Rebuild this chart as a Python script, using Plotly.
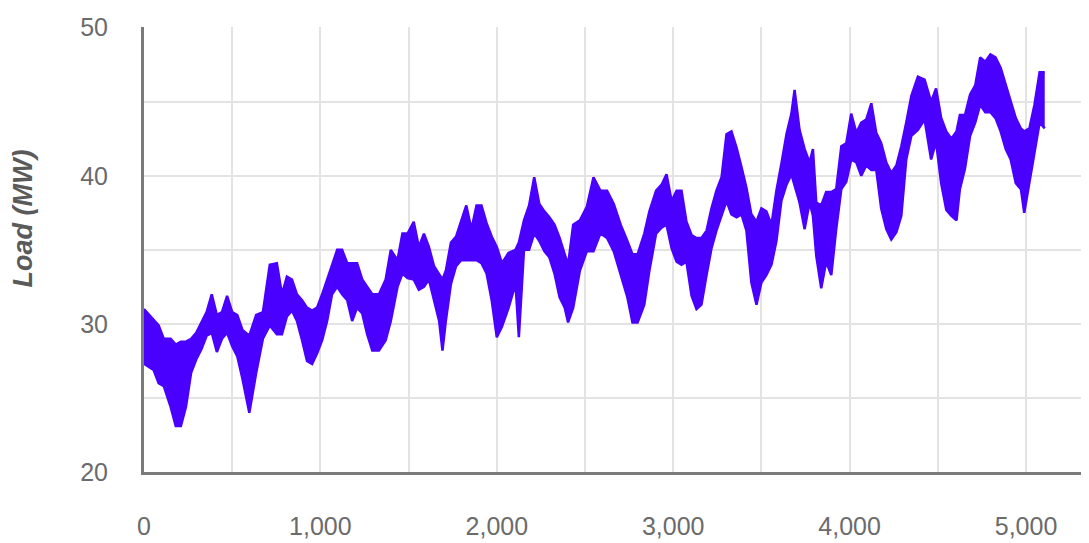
import plotly.graph_objects as go

# Hour index (x) and the upper / lower envelope of the noisy load trace (MW)
hours = [0, 54, 83, 112, 151, 180, 209, 238, 267, 296, 326, 355, 384, 413, 442, 471, 500, 529, 558, 597,
         636, 674, 713, 753, 782, 810, 839, 867, 896, 924, 953, 981, 1010, 1038, 1066, 1095, 1123, 1152, 1180, 1208,
         1237, 1265, 1294, 1332, 1370, 1399, 1437, 1465, 1494, 1529, 1558, 1587, 1615, 1644, 1673, 1692, 1711, 1740, 1769, 1798,
         1827, 1856, 1885, 1913, 1942, 1971, 2000, 2029, 2067, 2106, 2125, 2154, 2183, 2212, 2241, 2270, 2298, 2327, 2356, 2385,
         2404, 2433, 2471, 2510, 2548, 2587, 2625, 2663, 2702, 2740, 2769, 2798, 2836, 2865, 2903, 2934, 2962, 2991, 3019, 3047,
         3075, 3104, 3132, 3160, 3189, 3217, 3245, 3274, 3302, 3330, 3359, 3387, 3415, 3443, 3472, 3500, 3528, 3557, 3585, 3613,
         3642, 3670, 3688, 3716, 3745, 3773, 3792, 3811, 3839, 3867, 3896, 3924, 3953, 3981, 4009, 4038, 4066, 4094, 4123, 4151,
         4179, 4208, 4236, 4265, 4293, 4321, 4350, 4387, 4425, 4462, 4490, 4519, 4548, 4577, 4606, 4625, 4654, 4683, 4712, 4740,
         4769, 4798, 4827, 4856, 4885, 4913, 4942, 4971, 4990, 5019, 5048, 5077, 5106]

load_high = [31.0, 30.3, 29.9, 29.0, 29.0, 28.6, 28.8, 28.8, 29.0, 29.4, 30.1, 30.8, 32.0, 30.6, 30.8, 31.9, 30.8, 30.6, 29.6, 29.2,
             30.6, 30.8, 34.0, 34.1, 32.0, 33.2, 33.0, 32.0, 31.6, 31.1, 30.9, 31.1, 32.0, 33.0, 33.9, 35.0, 35.0, 34.1, 34.1, 34.1,
             33.0, 32.5, 32.0, 32.0, 33.0, 35.0, 34.3, 36.1, 36.1, 36.9, 35.2, 36.1, 35.2, 33.9, 33.4, 33.0, 33.6, 35.5, 35.9, 37.0,
             38.0, 36.4, 38.0, 38.0, 36.8, 35.9, 35.2, 34.1, 34.8, 35.0, 35.5, 37.0, 38.0, 39.9, 38.1, 37.6, 37.2, 36.7, 35.8, 34.7,
             34.0, 36.7, 37.0, 37.9, 39.9, 39.0, 39.0, 38.1, 36.7, 35.6, 34.7, 34.7, 36.1, 37.6, 39.0, 39.4, 40.1, 38.3, 39.0, 39.0,
             36.9, 36.0, 35.8, 35.8, 36.3, 37.8, 39.0, 39.9, 42.8, 43.0, 41.9, 40.6, 39.2, 37.4, 36.9, 37.8, 37.6, 36.7, 39.0, 40.8,
             42.8, 44.2, 45.8, 43.1, 41.8, 40.9, 41.8, 38.2, 38.0, 38.9, 38.9, 39.1, 42.0, 42.2, 44.2, 42.9, 43.6, 43.8, 44.9, 42.9,
             42.2, 40.9, 40.2, 40.7, 42.0, 43.6, 45.4, 46.7, 46.5, 45.0, 45.9, 43.9, 43.0, 42.5, 43.0, 44.1, 44.1, 45.5, 46.1, 48.0,
             47.7, 48.2, 48.0, 47.3, 46.1, 45.0, 43.9, 43.2, 43.0, 43.2, 44.8, 47.0, 47.0]

load_low = [27.3, 26.9, 26.0, 25.8, 24.4, 23.1, 23.1, 24.4, 26.7, 27.6, 28.3, 29.2, 29.4, 28.1, 29.0, 29.4, 28.5, 27.8, 26.3, 24.0,
            26.7, 29.0, 29.9, 29.3, 29.3, 30.5, 30.9, 30.2, 28.9, 27.5, 27.3, 28.0, 28.9, 30.2, 32.0, 32.5, 32.0, 31.6, 30.2, 31.1,
            30.7, 29.3, 28.2, 28.2, 28.9, 30.2, 32.5, 33.4, 33.1, 33.0, 32.3, 32.5, 33.0, 31.6, 30.2, 28.2, 30.2, 32.7, 33.9, 34.3,
            34.3, 34.3, 34.3, 34.1, 33.4, 31.6, 29.1, 29.8, 31.1, 32.7, 29.1, 35.0, 35.0, 36.1, 35.6, 34.9, 34.5, 33.4, 31.8, 31.1,
            30.1, 31.1, 33.6, 34.9, 34.9, 36.1, 35.8, 34.9, 33.4, 31.8, 30.1, 30.1, 31.3, 33.6, 36.1, 36.5, 36.7, 35.1, 34.2, 34.0,
            34.2, 31.9, 31.0, 31.3, 33.3, 35.1, 36.3, 37.4, 38.3, 37.4, 37.2, 37.4, 36.3, 32.8, 31.3, 32.8, 33.3, 34.0, 35.6, 38.3,
            39.4, 40.1, 39.3, 38.2, 36.4, 38.2, 37.3, 34.6, 32.4, 34.2, 33.3, 36.4, 39.1, 39.6, 41.1, 40.9, 40.0, 40.7, 40.4, 40.4,
            37.8, 36.4, 35.7, 36.2, 37.3, 41.1, 42.7, 43.1, 43.8, 41.1, 42.3, 39.5, 37.7, 37.3, 37.0, 39.1, 40.5, 42.7, 43.6, 44.8,
            44.3, 44.3, 43.9, 43.0, 41.8, 41.1, 39.5, 39.1, 37.5, 39.5, 41.4, 43.6, 43.2]

y_ticks = [20, 30, 40, 50]
x_ticks = [0, 1000, 2000, 3000, 4000, 5000]
x_tick_text = ["0", "1,000", "2,000", "3,000", "4,000", "5,000"]

LINE = "#4a00ff"
TICK_FONT = dict(family="Liberation Sans, Arial", size=25, color="#6b6b6b")

fig = go.Figure()
fig.add_trace(go.Scatter(x=hours, y=load_low, mode="lines",
                         line=dict(color=LINE, width=2.5), showlegend=False, hoverinfo="skip"))
fig.add_trace(go.Scatter(x=hours, y=load_high, mode="lines", fill="tonexty", fillcolor=LINE,
                         line=dict(color=LINE, width=2.5), showlegend=False, name="Load"))

# page body has an 8px default margin, so the figure is sized to fit the window after that offset
fig.update_layout(
    width=1081, height=535,
    margin=dict(l=136, r=0, t=19, b=71),
    paper_bgcolor="white", plot_bgcolor="white",
    xaxis=dict(range=[0, 5357], tickvals=x_ticks, ticktext=x_tick_text, tickfont=TICK_FONT,
               automargin=False,
               showgrid=True, gridcolor="#e3e3e3", gridwidth=2,
               minor=dict(dtick=500, tick0=0, showgrid=True, gridcolor="#e3e3e3", gridwidth=2),
               showline=True, linecolor="#7a7a7a", linewidth=3, ticks="", ticklabelstandoff=30,
               zeroline=False),
    yaxis=dict(range=[20, 50.05], tickvals=y_ticks, tickfont=TICK_FONT,
               automargin=False,
               showgrid=True, gridcolor="#e3e3e3", gridwidth=2,
               minor=dict(dtick=5, tick0=0, showgrid=True, gridcolor="#e3e3e3", gridwidth=2),
               showline=True, linecolor="#7a7a7a", linewidth=3, ticks="", ticklabelstandoff=28,
               zeroline=False),
    annotations=[dict(text="<b><i>Load (MW)</i></b>", textangle=-90, xref="paper", yref="paper",
                      x=-0.128, y=0.57, xanchor="center", yanchor="middle", showarrow=False,
                      font=dict(family="Liberation Sans, Arial", size=27, color="#5a5a5a"))],
)

fig.write_html("out.html")
